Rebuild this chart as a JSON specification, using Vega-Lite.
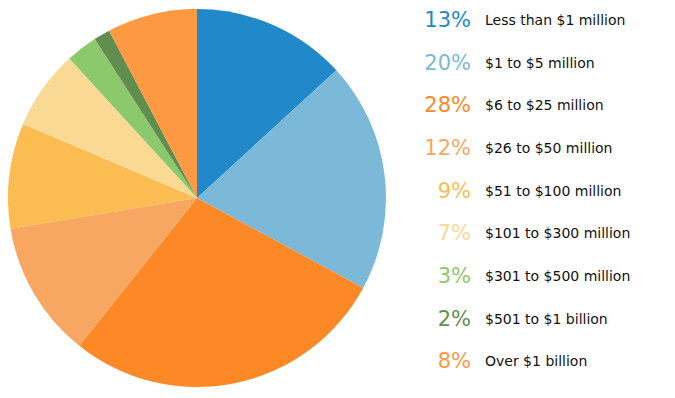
{
  "$schema": "https://vega.github.io/schema/vega-lite/v6.json",
  "padding": 0,
  "background": "white",
  "config": {"view": {"stroke": null}, "font": "DejaVu Sans"},
  "data": {"values": [
    {"idx": 1, "category": "Less than $1 million", "value": 13.2, "pct": "13%"},
    {"idx": 2, "category": "$1 to $5 million", "value": 19.7, "pct": "20%"},
    {"idx": 3, "category": "$6 to $25 million", "value": 27.8, "pct": "28%"},
    {"idx": 4, "category": "$26 to $50 million", "value": 11.7, "pct": "12%"},
    {"idx": 5, "category": "$51 to $100 million", "value": 9.0, "pct": "9%"},
    {"idx": 6, "category": "$101 to $300 million", "value": 6.8, "pct": "7%"},
    {"idx": 7, "category": "$301 to $500 million", "value": 2.7, "pct": "3%"},
    {"idx": 8, "category": "$501 to $1 billion", "value": 1.4, "pct": "2%"},
    {"idx": 9, "category": "Over $1 billion", "value": 7.7, "pct": "8%"}
  ]},
  "spacing": 0,
  "hconcat": [
    {
      "width": 394,
      "height": 396,
      "mark": {"type": "arc", "outerRadius": 189},
      "encoding": {
        "theta": {"field": "value", "type": "quantitative", "stack": true},
        "order": {"field": "idx", "type": "quantitative"},
        "color": {
          "field": "category", "type": "nominal", "legend": null,
          "scale": {
            "domain": ["Less than $1 million", "$1 to $5 million", "$6 to $25 million", "$26 to $50 million", "$51 to $100 million", "$101 to $300 million", "$301 to $500 million", "$501 to $1 billion", "Over $1 billion"],
            "range": ["#2188c9", "#7cb9d9", "#fd8826", "#f8a762", "#fbbd52", "#f9d994", "#8cc86c", "#618e4e", "#fd9843"]
          }
        }
      }
    },
    {
      "width": 168,
      "height": 384,
      "encoding": {
        "y": {"field": "category", "type": "nominal", "sort": {"field": "idx"}, "axis": null, "scale": {"paddingInner": 0, "paddingOuter": 0}}
      },
      "layer": [
        {
          "mark": {"type": "text", "align": "right", "baseline": "middle", "fontSize": 21, "dx": -7, "dy": -0.5},
          "encoding": {
            "text": {"field": "pct"},
            "color": {
              "field": "category", "type": "nominal", "legend": null,
              "scale": {
                "domain": ["Less than $1 million", "$1 to $5 million", "$6 to $25 million", "$26 to $50 million", "$51 to $100 million", "$101 to $300 million", "$301 to $500 million", "$501 to $1 billion", "Over $1 billion"],
                "range": ["#2188c9", "#7cb9d9", "#fd8826", "#f8a762", "#fbbd52", "#f9d994", "#8cc86c", "#618e4e", "#fd9843"]
              }
            }
          }
        },
        {
          "mark": {"type": "text", "align": "left", "baseline": "middle", "fontSize": 14, "dx": 7, "dy": -0.5, "color": "#111"},
          "encoding": {"text": {"field": "category"}}
        }
      ]
    }
  ]
}
